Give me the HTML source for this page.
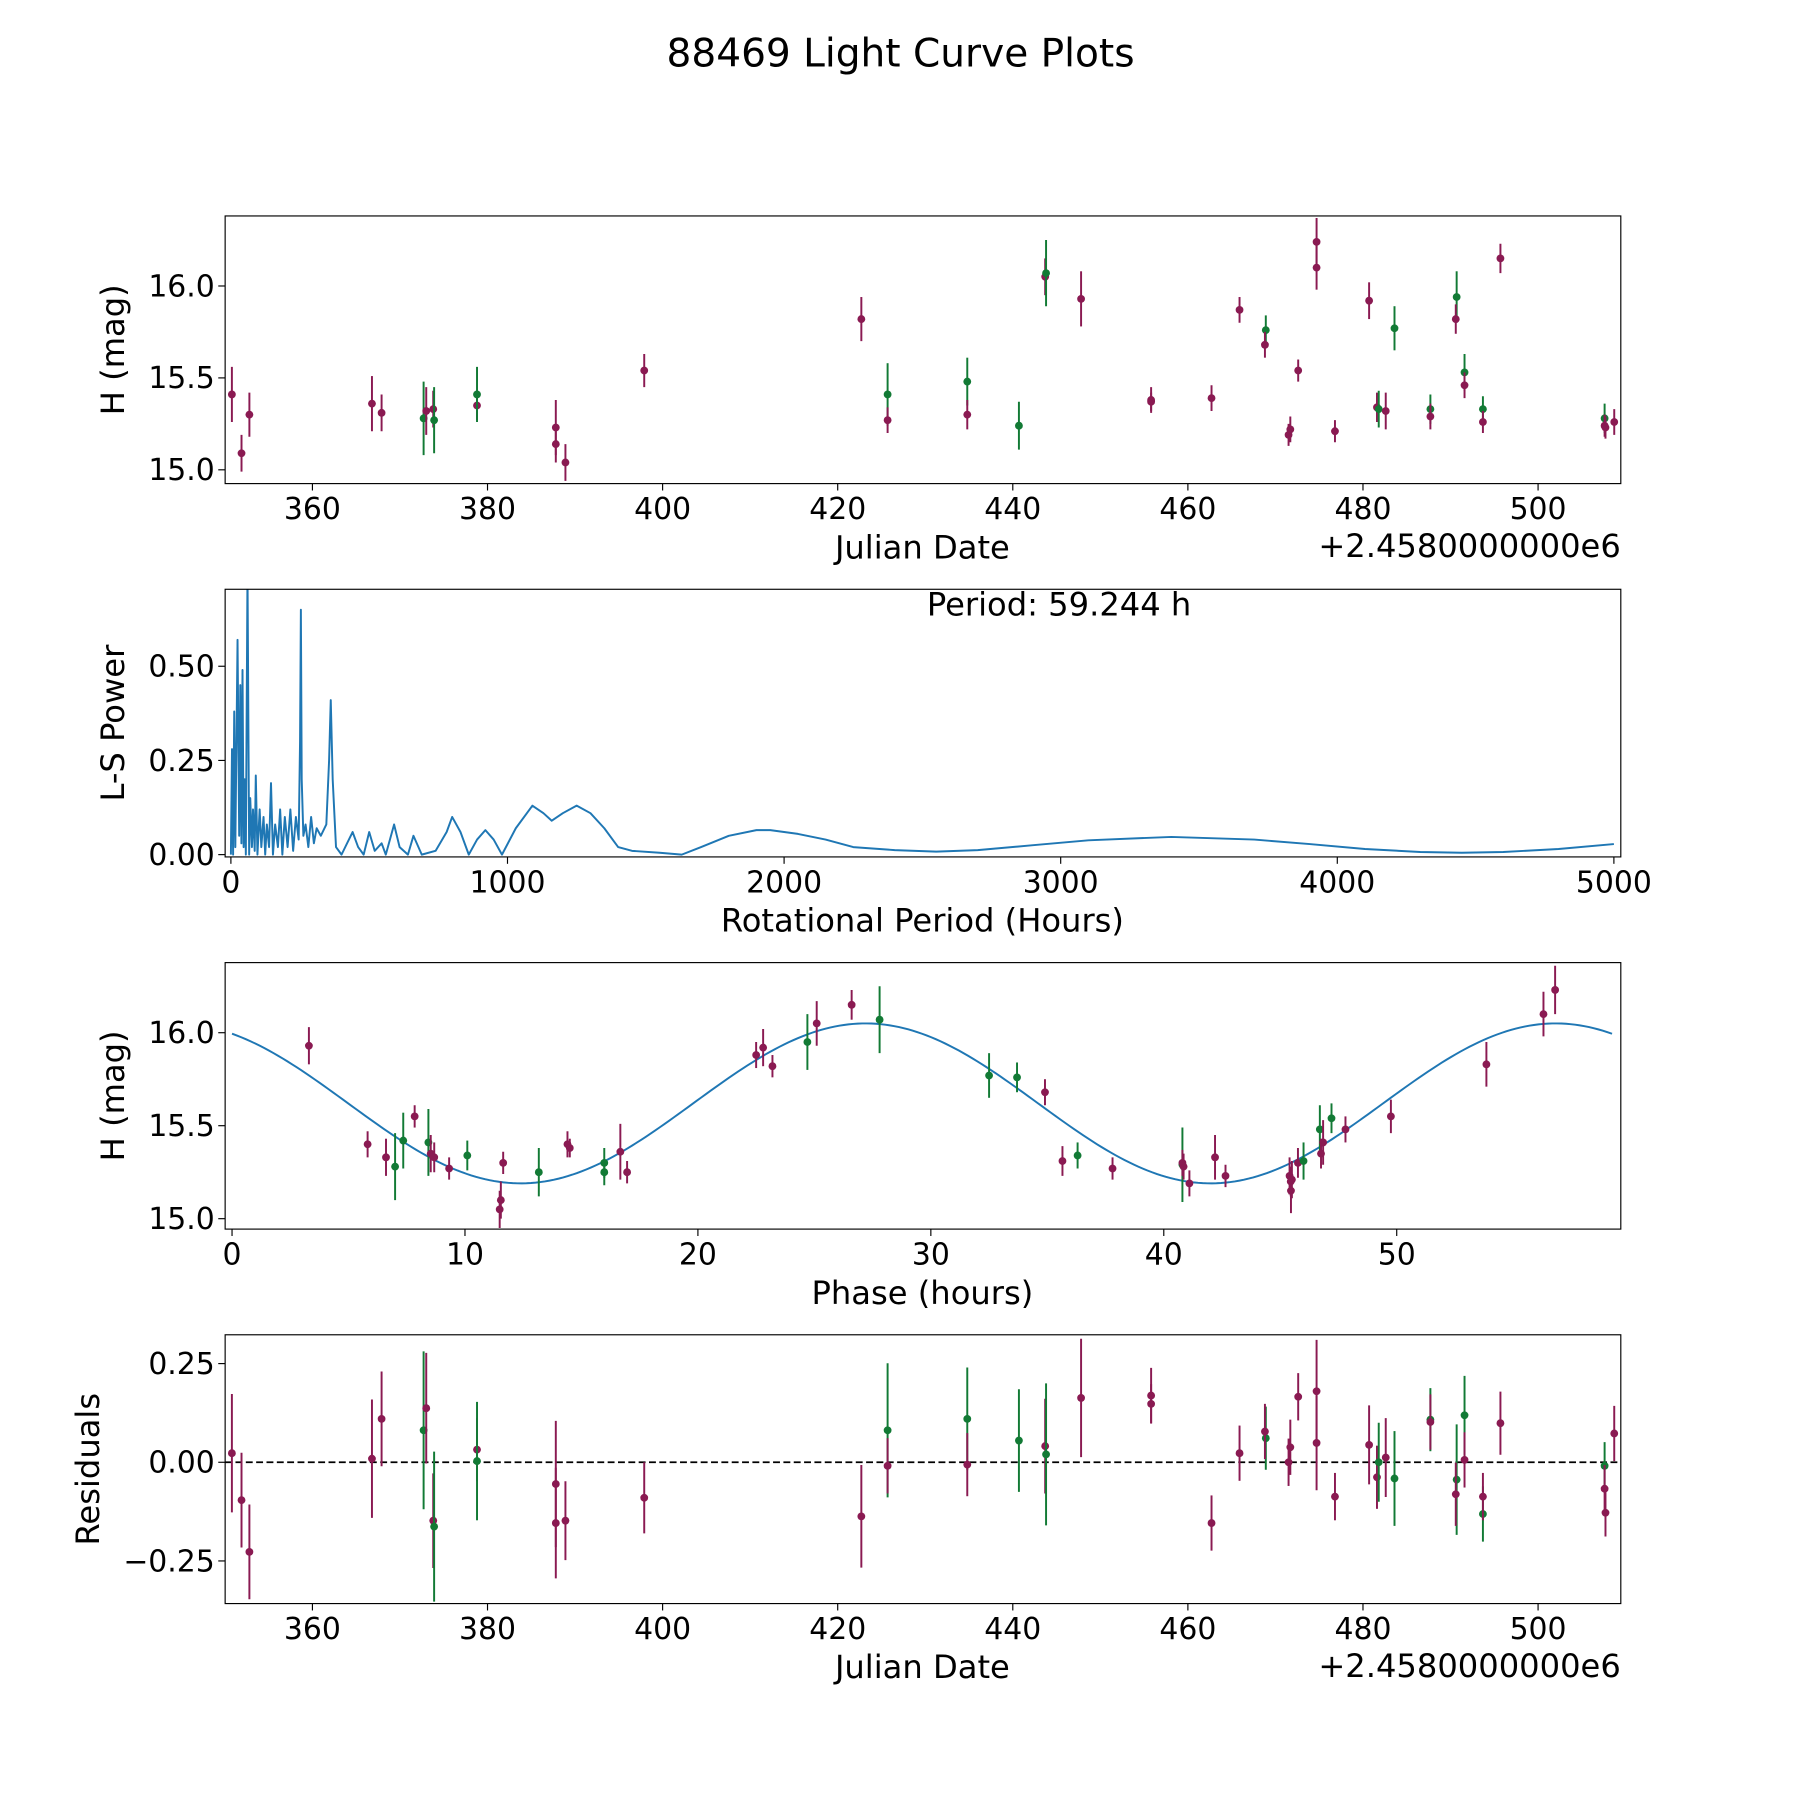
<!DOCTYPE html>
<html><head><meta charset="utf-8"><style>
html,body{margin:0;padding:0;background:#fff}
svg{display:block}
text{font-family:"DejaVu Sans","Liberation Sans",sans-serif;fill:#000}
</style></head><body>
<svg id="chart" width="1800" height="1800" viewBox="0 0 1567 1567" xmlns="http://www.w3.org/2000/svg">
<text x="784" y="58" font-size="34" text-anchor="middle">88469 Light Curve Plots</text>
</svg>
<script>
// ---------- data ----------
const lcDates = [350.8,351.9,352.8,366.8,367.9,372.7,373.0,373.8,373.9,378.8,378.8,387.8,387.8,388.9,397.9,422.7,425.7,425.7,434.8,434.8,440.7,443.7,443.8,447.8,455.8,455.8,462.7,465.9,468.9,468.8,471.5,471.7,472.6,474.7,474.7,476.8,480.7,481.6,481.8,482.6,483.6,487.7,487.7,490.7,490.6,491.6,491.6,493.7,493.7,495.7,507.6,507.6,507.7,508.7];
const lcMags  = [15.41,15.09,15.30,15.36,15.31,15.28,15.32,15.33,15.27,15.35,15.41,15.23,15.14,15.04,15.54,15.82,15.41,15.27,15.48,15.30,15.24,16.05,16.07,15.93,15.38,15.37,15.39,15.87,15.76,15.68,15.19,15.22,15.54,16.24,16.10,15.21,15.92,15.34,15.33,15.32,15.77,15.33,15.29,15.94,15.82,15.53,15.46,15.33,15.26,16.15,15.28,15.24,15.23,15.26];
const lcErrs  = [0.15,0.1,0.12,0.15,0.1,0.2,0.13,0.1,0.18,0.08,0.15,0.15,0.1,0.1,0.09,0.12,0.17,0.07,0.13,0.08,0.13,0.1,0.18,0.15,0.07,0.05,0.07,0.07,0.08,0.07,0.06,0.07,0.06,0.13,0.12,0.06,0.1,0.08,0.1,0.1,0.12,0.08,0.07,0.14,0.08,0.1,0.07,0.07,0.06,0.08,0.08,0.06,0.06,0.07];
const lcBands = ['p','p','p','p','p','g','p','p','g','p','g','p','p','p','p','p','g','p','g','p','g','p','g','p','p','p','p','p','g','p','p','p','p','p','p','p','p','p','g','p','g','g','p','g','p','g','p','g','p','p','g','p','p','p'];

const lsPeriods = [0,4,8,12,16,24,30,34,38,42,46,50,54,60,66,70,76,80,86,90,96,104,110,118,124,130,138,145,152,160,170,178,186,195,205,215,225,235,245,250,253,256,262,270,280,290,300,310,325,345,355,361,368,380,400,420,440,460,480,500,520,545,560,590,610,640,660,690,740,780,800,830,860,890,920,950,980,1030,1090,1130,1160,1200,1250,1300,1350,1400,1450,1550,1630,1700,1800,1900,1950,2050,2150,2250,2400,2550,2700,2900,3100,3400,3700,3900,4100,4300,4450,4600,4800,5000];
const lsPowers  = [0,0.28,0,0.38,0.02,0.57,0.05,0.45,0.03,0.49,0.02,0.2,0.0,0.75,0.0,0.15,0.02,0.12,0.01,0.21,0.0,0.12,0.02,0.1,0.0,0.08,0.02,0.19,0.0,0.08,0.02,0.12,0.0,0.1,0.02,0.12,0.01,0.1,0.04,0.3,0.65,0.2,0.05,0.08,0.02,0.1,0.03,0.07,0.05,0.08,0.25,0.41,0.2,0.02,0.0,0.03,0.06,0.02,0.0,0.06,0.01,0.03,0.0,0.08,0.02,0.0,0.05,0.0,0.01,0.06,0.1,0.06,0.0,0.04,0.065,0.04,0.0,0.07,0.13,0.11,0.09,0.11,0.13,0.11,0.07,0.02,0.01,0.005,0.0,0.02,0.05,0.065,0.065,0.055,0.04,0.02,0.012,0.008,0.012,0.025,0.038,0.047,0.04,0.028,0.015,0.007,0.005,0.007,0.015,0.028];

const phPhases = [3.3,5.82,6.61,7.0,7.35,7.84,8.43,8.53,8.68,9.32,10.1,11.54,11.49,11.64,13.17,14.4,14.5,15.98,15.98,16.67,16.96,22.5,22.8,23.2,24.7,25.1,26.6,27.8,32.5,33.7,34.9,35.65,36.3,37.8,40.8,40.8,40.85,41.1,42.2,42.65,45.4,45.45,45.46,45.5,45.76,46.0,46.7,46.75,46.84,47.2,47.8,49.75,53.85,56.3,56.8];
const phMags   = [15.93,15.40,15.33,15.28,15.42,15.55,15.41,15.35,15.33,15.27,15.34,15.10,15.05,15.30,15.25,15.40,15.38,15.30,15.25,15.36,15.25,15.88,15.92,15.82,15.95,16.05,16.15,16.07,15.77,15.76,15.68,15.31,15.34,15.27,15.29,15.30,15.28,15.19,15.33,15.23,15.23,15.20,15.15,15.21,15.30,15.31,15.48,15.35,15.41,15.54,15.48,15.55,15.83,16.10,16.23];
const phErrs   = [0.1,0.07,0.1,0.18,0.15,0.06,0.18,0.1,0.08,0.06,0.08,0.1,0.1,0.06,0.13,0.07,0.05,0.08,0.07,0.15,0.06,0.07,0.1,0.06,0.15,0.12,0.08,0.18,0.12,0.08,0.07,0.08,0.07,0.06,0.2,0.07,0.07,0.07,0.12,0.06,0.1,0.08,0.12,0.1,0.08,0.1,0.13,0.08,0.12,0.08,0.07,0.09,0.12,0.12,0.13];
const phBands  = ['p','p','p','g','g','p','g','p','p','p','g','p','p','p','g','p','p','g','g','p','p','p','p','p','g','p','p','g','g','g','p','p','g','p','g','p','p','p','p','p','p','p','p','p','p','g','g','p','p','g','p','p','p','p','p'];
const fitParams = [15.62, 0.43, 29.62, 27.2]; // mean, amplitude, period, peak phase

const resDates = [350.8,351.9,352.8,366.8,367.9,372.7,373.0,373.8,373.9,378.8,378.8,387.8,387.8,388.9,397.9,422.7,425.7,425.7,434.8,434.8,440.7,443.7,443.8,447.8,455.8,455.8,462.7,465.9,468.9,468.8,471.5,471.7,472.6,474.7,474.7,476.8,480.7,481.6,481.8,482.6,483.6,487.7,487.7,490.7,490.6,491.6,491.6,493.7,493.7,495.7,507.6,507.6,507.7,508.7];
const resVals  = [0.023,-0.096,-0.227,0.009,0.11,0.081,0.137,-0.148,-0.163,0.032,0.003,-0.055,-0.154,-0.148,-0.09,-0.137,0.081,-0.009,0.11,-0.006,0.055,0.041,0.02,0.163,0.169,0.148,-0.154,0.023,0.061,0.078,0.0,0.038,0.166,0.18,0.049,-0.087,0.044,-0.038,0.0,0.012,-0.041,0.108,0.102,-0.044,-0.081,0.119,0.006,-0.131,-0.087,0.099,-0.009,-0.067,-0.128,0.073];
const resErrs  = [0.15,0.12,0.12,0.15,0.12,0.2,0.14,0.12,0.19,0.08,0.15,0.16,0.14,0.1,0.09,0.13,0.17,0.07,0.13,0.08,0.13,0.12,0.18,0.15,0.07,0.05,0.07,0.07,0.08,0.07,0.06,0.07,0.06,0.13,0.12,0.06,0.1,0.08,0.1,0.1,0.12,0.08,0.07,0.14,0.08,0.1,0.07,0.07,0.06,0.08,0.06,0.06,0.06,0.07];
const resBands = lcBands;

const jdTicks = [360,380,400,420,440,460,480,500];
const hTicks = [15.0,15.5,16.0];
const lsXTicks = [0,1000,2000,3000,4000,5000];
const lsYTicks = [0.00,0.25,0.50];
const phXTicks = [0,10,20,30,40,50];
const resYTicks = [0.25,0.00,-0.25];

// ---------- drawing ----------
const NS = 'http://www.w3.org/2000/svg';
const svg = document.getElementById('chart');
const COL = {p:'#8a1a52', g:'#127a35'};
const TICKFS = 26, LABFS = 28;
function mk(tag, attrs, parent){const e=document.createElementNS(NS,tag);for(const k in attrs)e.setAttribute(k,attrs[k]);(parent||svg).appendChild(e);return e;}
function fmt(v,d){const s=v.toFixed(d);return v<0?'\u2212'+s.slice(1):s;}
const L=196,R=1411;

function panel(name,top,bot,xmin,xmax,ymin,ymax){
  const g=mk('g',{});
  
  
  const sx=v=>L+(v-xmin)/(xmax-xmin)*(R-L);
  const sy=v=>bot-(v-ymin)/(ymax-ymin)*(bot-top);
  const cid='clip-'+name;
  const cp=mk('clipPath',{id:cid},g); mk('rect',{x:L,y:top,width:R-L,height:bot-top},cp);
  const plot=mk('g',{'clip-path':'url(#'+cid+')'},g);
  return {g,sx,sy,plot,top,bot};
}
function axes(P,xt,xd,yt,yd,xlabel,ylabel,ylx){
  const g=P.g;
  const frame=mk('rect',{x:L,y:P.top,width:R-L,height:P.bot-P.top,fill:'none',stroke:'#000','stroke-width':1});
  
  
  g.appendChild(frame);
  xt.forEach(v=>{const x=P.sx(v);mk('line',{x1:x,x2:x,y1:P.bot,y2:P.bot+6,stroke:'#000','stroke-width':1},g);
    const t=mk('text',{x:x,y:P.bot+31,'font-size':TICKFS,'text-anchor':'middle'},g);t.textContent=fmt(v,xd);
    
    });
  yt.forEach(v=>{const y=P.sy(v);mk('line',{x1:L,x2:L-6,y1:y,y2:y,stroke:'#000','stroke-width':1},g);
    const t=mk('text',{x:L-9,y:y+9,'font-size':TICKFS,'text-anchor':'end'},g);t.textContent=fmt(v,yd);
    
    });
  const xl=mk('text',{x:803,y:P.bot+65,'font-size':LABFS,'text-anchor':'middle'},g);xl.textContent=xlabel;
  
  
  const cy=(P.top+P.bot)/2;
  const yl=mk('text',{x:ylx,y:cy,'font-size':LABFS,'text-anchor':'middle',transform:'rotate(-90 '+ylx+' '+cy+')'},g);yl.textContent=ylabel;
  
  
}
function offsetText(P){
  const t=mk('text',{x:R,y:P.bot+64,'font-size':LABFS,'text-anchor':'end'},P.g);t.textContent='+2.4580000000e6';
  
  
}
function errPoints(P,xs,ys,es,bs){
  xs.forEach((xv,i)=>{const x=P.sx(xv),c=COL[bs[i]];
    const l=mk('line',{x1:x,x2:x,y1:P.sy(ys[i]+es[i]),y2:P.sy(ys[i]-es[i]),stroke:c,'stroke-width':1.7},P.plot);
    
    
    const d=mk('circle',{cx:x,cy:P.sy(ys[i]),r:3.4,fill:c},P.plot);
    
    
  });
}

// Panel 1
const P1=panel('light-curve-panel',188,421,350.03,509.45,14.925,16.381);
errPoints(P1,lcDates,lcMags,lcErrs,lcBands);
axes(P1,jdTicks,0,hTicks,1,'Julian Date','H (mag)',108);
offsetText(P1);

// Panel 2
const P2=panel('periodogram-panel',513,746,-20.8,5025,-0.0061,0.7043);
let d='';lsPeriods.forEach((p,i)=>{d+=(i?'L':'M')+P2.sx(p).toFixed(2)+' '+P2.sy(lsPowers[i]).toFixed(2);});
const ln=mk('path',{d:d,fill:'none',stroke:'#1f77b4','stroke-width':1.7,'stroke-linejoin':'round'},P2.plot);


axes(P2,lsXTicks,0,lsYTicks,2,'Rotational Period (Hours)','L-S Power',108);
const pt=mk('text',{x:922,y:536,'font-size':LABFS,'text-anchor':'middle'},P2.g);pt.textContent='Period: 59.244 h';



// Panel 3
const P3=panel('phase-fold-panel',838,1070,-0.296,59.62,14.944,16.377);
let f='';for(let i=0;i<=300;i++){const t=i/300*59.244;const h=fitParams[0]+fitParams[1]*Math.cos(2*Math.PI*(t-fitParams[3])/fitParams[2]);f+=(i?'L':'M')+P3.sx(t).toFixed(2)+' '+P3.sy(h).toFixed(2);}
const fl=mk('path',{d:f,fill:'none',stroke:'#1f77b4','stroke-width':1.7},P3.plot);


errPoints(P3,phPhases,phMags,phErrs,phBands);
axes(P3,phXTicks,0,hTicks,1,'Phase (hours)','H (mag)',108);

// Panel 4
const P4=panel('residuals-panel',1162,1396,350.03,509.45,-0.358,0.323);
const zl=mk('line',{x1:L,x2:R,y1:P4.sy(0),y2:P4.sy(0),stroke:'#000','stroke-width':1.5,'stroke-dasharray':'6,3'},P4.plot);


errPoints(P4,resDates,resVals,resErrs,resBands);
axes(P4,jdTicks,0,resYTicks,2,'Julian Date','Residuals',86);
offsetText(P4);
</script>
</body></html>
